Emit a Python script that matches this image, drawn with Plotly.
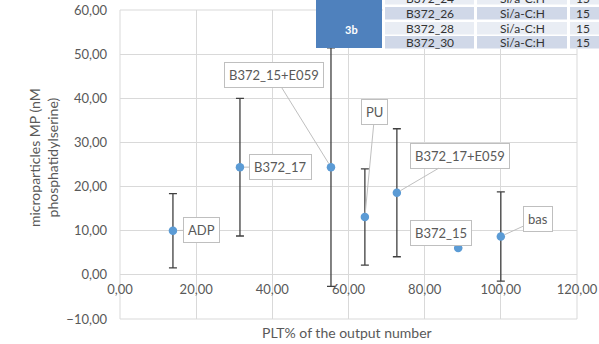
import plotly.graph_objects as go

# ---- data ----
labels = ["ADP", "B372_17", "B372_15+E059", "PU", "B372_17+E059", "B372_15", "bas"]
plt_pct = [13.9, 31.5, 55.4, 64.3, 72.7, 88.8, 100.0]
mp_values = [10.0, 24.4, 24.4, 13.1, 18.6, 6.1, 8.7]
mp_errors = [8.4, 15.6, 27.0, 10.9, 14.5, 0.0, 10.1]

x_ticks = [0, 20, 40, 60, 80, 100, 120]
y_ticks = [-10, 0, 10, 20, 30, 40, 50, 60]

table_rows = ["B372_24", "B372_26", "B372_28", "B372_30"]
table_material = ["Si/a-C:H", "Si/a-C:H", "Si/a-C:H", "Si/a-C:H"]
table_num = ["15", "15", "15", "15"]
table_group = "3b"

# label offsets (pixels, box centre relative to point)
label_offsets = [(29, -1), (41, 0), (-57, -92), (10, -105), (63, -37), (-17, -15), (37, -17)]

W, H = 599, 344
L, R, T, B = 120, 22, 10, 25
PW, PH = W - L - R, H - T - B

def px(xp):
    return (xp - L) / PW

def py(yp):
    return (H - B - yp) / PH

FONT = "Lato"
GRAY = "#595959"
GRID = "#D9D9D9"

fig = go.Figure()
fig.add_trace(go.Scatter(
    x=plt_pct, y=mp_values, mode="markers",
    marker=dict(size=8.5, color="#5B9BD5"),
    error_y=dict(type="data", array=mp_errors, visible=True,
                 color="#404040", thickness=1.3, width=4),
    cliponaxis=False, showlegend=False,
))

annotations = []
for lab, xv, yv, (dx, dy) in zip(labels, plt_pct, mp_values, label_offsets):
    annotations.append(dict(
        x=xv, y=yv, xref="x", yref="y", text=lab,
        ax=dx, ay=dy, axref="pixel", ayref="pixel",
        showarrow=True, arrowhead=0, arrowwidth=1, arrowcolor="#BFBFBF",
        standoff=4, startstandoff=0,
        bgcolor="white", bordercolor="#BFBFBF", borderwidth=1, borderpad=4,
        font=dict(family=FONT, size=13, color=GRAY),
    ))

# axis titles
annotations.append(dict(
    x=px(347), y=py(332), xref="paper", yref="paper", showarrow=False,
    text="PLT% of the output number", font=dict(family=FONT, size=14, color=GRAY),
    xanchor="center", yanchor="middle",
))
annotations.append(dict(
    x=px(43), y=py(158), xref="paper", yref="paper", showarrow=False,
    text="microparticles MP (nM<br>phosphatidylserine)", textangle=-90,
    font=dict(family=FONT, size=14, color=GRAY),
    xanchor="center", yanchor="middle",
))

shapes = []
# plot border
shapes.append(dict(type="rect", xref="paper", yref="paper", x0=0, x1=1, y0=0, y1=1,
                   line=dict(color=GRID, width=1), layer="below"))

# table overlay
shapes.append(dict(type="rect", xref="paper", yref="paper",
                   x0=px(383), x1=px(610), y0=py(49), y1=py(-20),
                   fillcolor="white", line=dict(width=0), layer="above"))
shapes.append(dict(type="rect", xref="paper", yref="paper",
                   x0=px(316), x1=px(382), y0=py(48), y1=py(-20),
                   fillcolor="#4F81BD", line=dict(width=0), layer="above"))
annotations.append(dict(
    x=px(351), y=py(21), xref="paper", yref="paper", showarrow=False,
    text="<b>" + table_group + "</b>", font=dict(family=FONT, size=11, color="white"),
))
row_tops = [-8, 7, 22, 36]
row_colors = ["#E9EDF4", "#D0D8E8", "#E9EDF4", "#D0D8E8"]
cols = [(385, 474), (477, 567), (570, 610)]
for i, (name, mat, num) in enumerate(zip(table_rows, table_material, table_num)):
    y0p, y1p = row_tops[i], row_tops[i] + 12.5
    for (c0, c1) in cols:
        shapes.append(dict(type="rect", xref="paper", yref="paper",
                           x0=px(c0), x1=px(c1), y0=py(y1p), y1=py(y0p),
                           fillcolor=row_colors[i], line=dict(width=0), layer="above"))
    yc = py((y0p + y1p) / 2)
    for txt, xc in zip([name, mat, num], [430, 522, 583]):
        annotations.append(dict(
            x=px(xc), y=yc, xref="paper", yref="paper", showarrow=False,
            text=txt, font=dict(family=FONT, size=12, color="#333333"),
            xanchor="center", yanchor="middle",
        ))

fig.update_layout(
    width=W, height=H,
    margin=dict(l=L, r=R, t=T, b=B, autoexpand=False),
    paper_bgcolor="white", plot_bgcolor="white",
    separators=", ",
    annotations=annotations, shapes=shapes,
    xaxis=dict(range=[0, 120], tickvals=x_ticks, tickformat=".2f",
               showgrid=True, gridcolor=GRID, gridwidth=1, zeroline=False,
               showline=False, anchor="free", position=10 / 70, automargin=False,
               ticks="", ticklabelstandoff=5,
               tickfont=dict(family=FONT, size=13, color=GRAY)),
    yaxis=dict(range=[-10, 60], tickvals=y_ticks, tickformat=".2f",
               showgrid=True, gridcolor=GRID, gridwidth=1, zeroline=False,
               showline=False, ticks="", ticklabelstandoff=12, automargin=False,
               tickfont=dict(family=FONT, size=13, color=GRAY)),
)

fig.write_html("out.html", config={"displayModeBar": False},
               post_script="document.body.style.margin='0';document.body.style.overflow='hidden';")
